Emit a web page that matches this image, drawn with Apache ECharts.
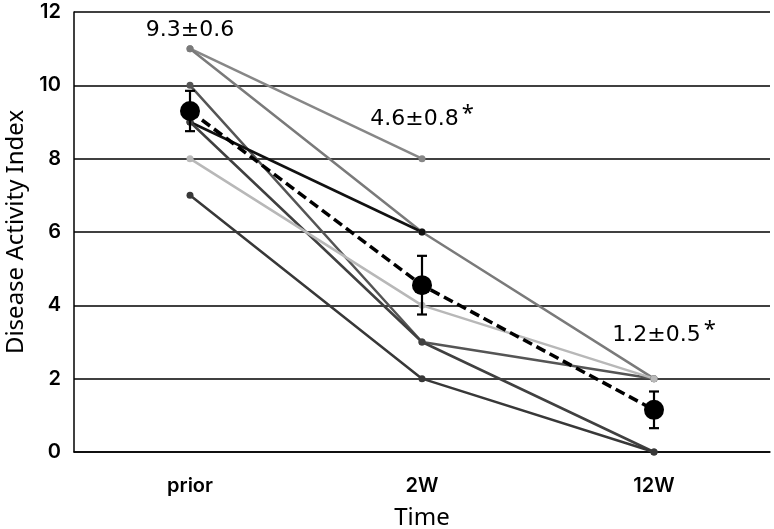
<!DOCTYPE html>
<html><head><meta charset="utf-8">
<script src="https://cdn.jsdelivr.net/npm/echarts@6/dist/echarts.min.js"></script>
<style>html,body{margin:0;padding:0;background:#fff}#c{width:774px;height:529px}</style>
</head><body><div id="c"></div>
<script>
var categories = ['prior', '2W', '12W'];
var subj1 = [11, 8, null];
var subj2 = [11, 6, 2];
var subj3 = [10, 3, 2];
var subj4 = [9, 6, null];
var subj5 = [9, 3, 0];
var subj6 = [8, 4, 2];
var subj7 = [7, 2, 0];
var meanVals = [9.3, 4.55, 1.15];
var semVals = [0.55, 0.8, 0.5];
var meanLabels = ['9.3±0.6', '4.6±0.8', '1.2±0.5'];
var starFlags = [false, true, true];
var yTicks = [0, 2, 4, 6, 8, 10, 12];

var subjects = [
  {d: subj1, c: '#878787'},
  {d: subj2, c: '#7a7a7a'},
  {d: subj3, c: '#555555'},
  {d: subj4, c: '#111111'},
  {d: subj5, c: '#404040'},
  {d: subj6, c: '#b8b8b8'},
  {d: subj7, c: '#383838'}
];
var FONT = '"Noto Sans", sans-serif';
var TFONT = 'Inter, "Noto Sans", sans-serif';
var AFONT = '"DejaVu Sans", sans-serif';
var labelOffsets = [[0, -81], [0, -166], [10, -75]];

var series = subjects.map(function (s) {
  return {
    type: 'line', data: s.d, symbol: 'circle', symbolSize: 7,
    itemStyle: {color: s.c}, lineStyle: {color: s.c, width: 2.5},
    z: 2, animation: false, connectNulls: false
  };
});
series.push({
  type: 'custom', z: 4, animation: false,
  data: meanVals.map(function (m, i) { return [i, m - semVals[i], m + semVals[i]]; }),
  renderItem: function (params, api) {
    var lo = api.coord([api.value(0), api.value(1)]);
    var hi = api.coord([api.value(0), api.value(2)]);
    var hw = 5;
    var st = {stroke: '#000', lineWidth: 2.2};
    return {type: 'group', children: [
      {type: 'line', shape: {x1: lo[0], y1: lo[1], x2: hi[0], y2: hi[1]}, style: st},
      {type: 'line', shape: {x1: lo[0] - hw, y1: lo[1], x2: lo[0] + hw, y2: lo[1]}, style: st},
      {type: 'line', shape: {x1: hi[0] - hw, y1: hi[1], x2: hi[0] + hw, y2: hi[1]}, style: st}
    ]};
  }
});
series.push({
  type: 'line', z: 5, animation: false,
  data: meanVals.map(function (m, i) {
    return {value: m, label: {offset: labelOffsets[i], formatter: meanLabels[i] + (starFlags[i] ? '{s|*}' : '')}};
  }),
  symbol: 'circle', symbolSize: 20,
  itemStyle: {color: '#000'},
  lineStyle: {color: '#000', width: 3.5, type: [10, 5]},
  label: {
    show: true, position: 'inside', color: '#000', fontSize: 22, fontFamily: AFONT,
    rich: {s: {fontSize: 22, color: '#000', fontFamily: FONT, padding: [0, 0, 10, 3]}}
  }
});

var chart = echarts.init(document.getElementById('c'), null, {renderer: 'canvas'});
chart.setOption({
  backgroundColor: '#fff',
  animation: false,
  grid: {left: 74, right: 4, top: 12, bottom: 77, containLabel: false, outerBoundsMode: 'none'},
  xAxis: {
    type: 'category', data: categories, boundaryGap: true,
    name: 'Time', nameLocation: 'middle', nameGap: 54,
    nameTextStyle: {fontSize: 24, color: '#000', fontFamily: FONT},
    axisLine: {lineStyle: {color: '#000', width: 1.5}},
    axisTick: {alignWithLabel: true, length: 4, lineStyle: {color: '#000', width: 2}},
    axisLabel: {fontSize: 20, color: '#000', fontFamily: TFONT, fontWeight: 600, margin: 24},
    splitLine: {show: false}
  },
  yAxis: {
    type: 'value', min: yTicks[0], max: yTicks[yTicks.length - 1], interval: 2,
    name: 'Disease Activity Index', nameLocation: 'middle', nameGap: 43,
    nameTextStyle: {fontSize: 24, color: '#000', fontFamily: FONT, padding: [0, 0, 0, 0]},
    axisLine: {show: true, lineStyle: {color: '#000', width: 1.5}},
    axisTick: {show: false},
    axisLabel: {fontSize: 20, color: '#000', fontFamily: TFONT, fontWeight: 600, margin: 13},
    splitLine: {lineStyle: {color: '#000', width: 1.5}}
  },
  series: series
});
</script></body></html>
